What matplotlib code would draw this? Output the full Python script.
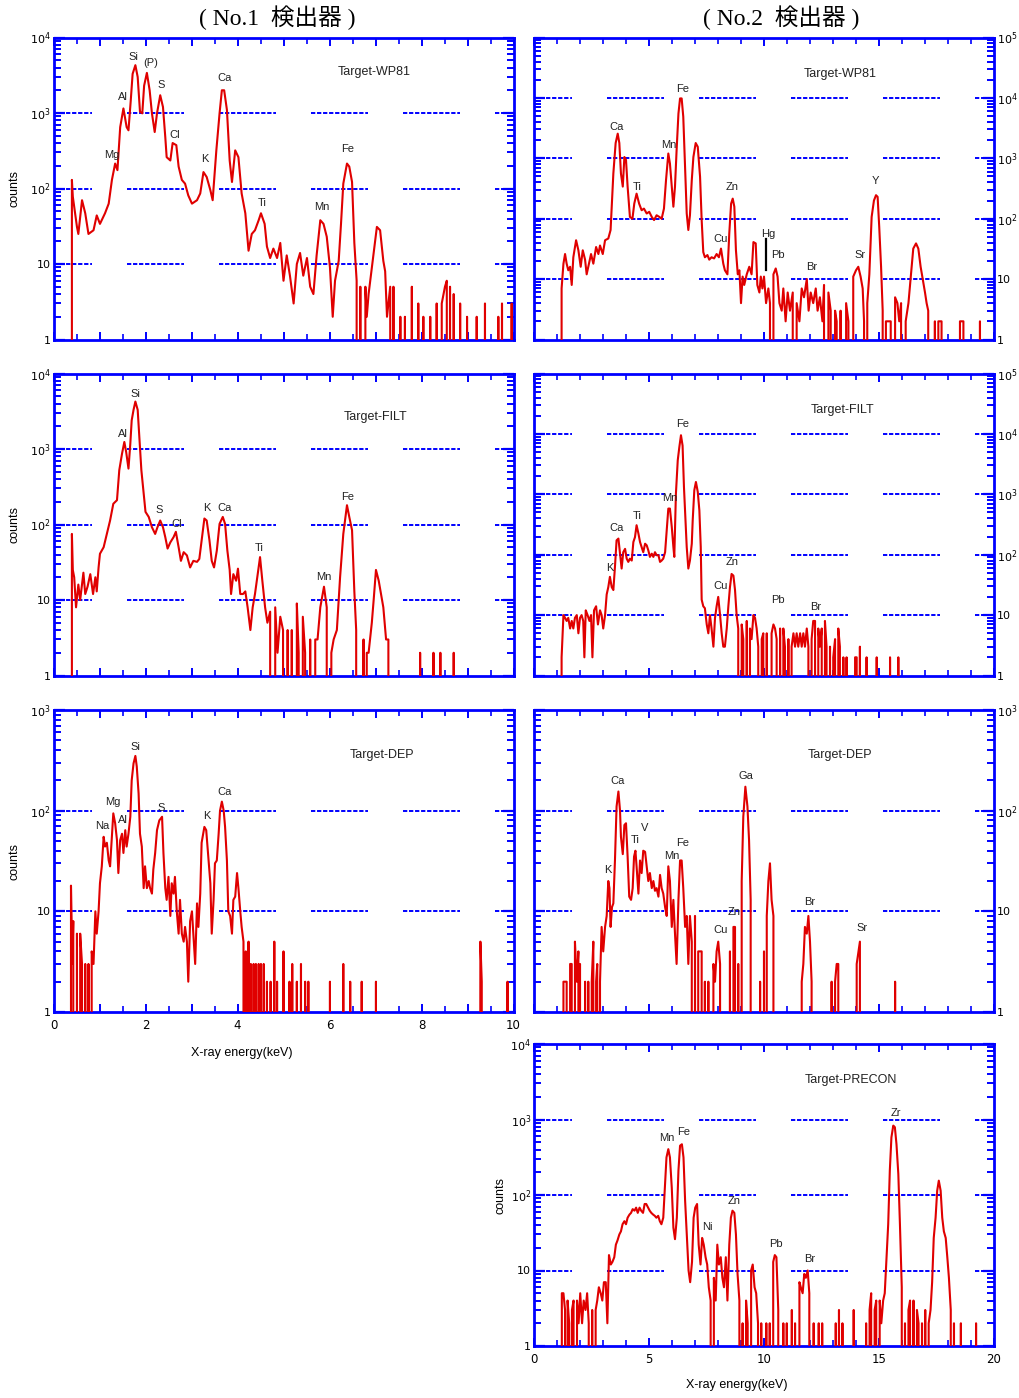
import numpy as np
import matplotlib
matplotlib.use("Agg")
import matplotlib.pyplot as plt
from matplotlib.ticker import MultipleLocator, LogLocator, FuncFormatter, NullFormatter

# ---------------- data: (energy keV, counts) ----------------
wp81_no1 = [(0.40,0),(0.40,130),(0.42,78),(0.51,31),(0.54,25),(0.62,70),(0.69,47),(0.76,25),(0.87,28),(0.94,44),(1.01,34),(1.12,47),(1.20,63),(1.27,130),(1.34,214),(1.39,175),(1.45,650),(1.52,1150),(1.59,650),(1.63,590),(1.68,1480),(1.72,3300),(1.78,4300),(1.83,3000),(1.88,1040),(1.93,990),(1.97,2300),(2.03,3400),(2.09,2000),(2.14,990),(2.20,560),(2.25,990),(2.32,1720),(2.38,1200),(2.43,480),(2.46,260),(2.54,235),(2.59,400),(2.67,375),(2.72,195),(2.79,130),(2.86,116),(2.93,81),(3.01,63),(3.12,70),(3.19,86),(3.26,165),(3.33,142),(3.41,95),(3.46,70),(3.54,320),(3.61,990),(3.66,2000),(3.71,2000),(3.77,1100),(3.83,235),(3.88,122),(3.95,320),(4.02,260),(4.09,86),(4.17,47),(4.24,15),(4.31,25),(4.38,28),(4.46,38),(4.51,47),(4.59,34),(4.64,17),(4.71,12),(4.78,16),(4.86,12),(4.93,19),(5.00,6),(5.07,13),(5.14,7),(5.22,3),(5.29,10),(5.36,14),(5.43,7),(5.51,12),(5.58,5),(5.65,4),(5.72,13),(5.80,38),(5.87,34),(5.94,23),(6.01,9),(6.07,2),(6.12,6),(6.20,11),(6.25,34),(6.30,116),(6.38,214),(6.43,195),(6.49,122),(6.54,19),(6.59,6),(6.63,0),(6.67,5),(6.72,0),(6.78,5),(6.81,2),(6.85,4),(6.90,7),(6.96,14),(7.03,31),(7.10,28),(7.17,11),(7.21,8),(7.25,2),(7.32,5),(7.36,0),(7.39,5),(7.46,0),(7.54,2),(7.61,0),(7.64,2),(7.72,0),(7.79,5),(7.83,0),(7.93,3),(7.97,0),(8.04,2),(8.12,0),(8.19,2),(8.26,0),(8.33,3),(8.41,0),(8.44,3),(8.51,5),(8.55,6),(8.59,0),(8.62,5),(8.66,0),(8.70,4),(8.73,0),(8.84,3),(8.91,0),(8.99,2),(9.06,0),(9.20,2),(9.28,0),(9.38,3),(9.42,0),(9.67,2),(9.71,0),(9.75,3),(9.78,0),(9.96,3),(10.0,0)]

filt_no1 = [(0.40,0),(0.40,75),(0.42,25),(0.45,20),(0.49,8),(0.54,16),(0.58,10),(0.65,23),(0.69,12),(0.74,15),(0.80,22),(0.86,12),(0.91,20),(0.94,13),(0.98,27),(1.01,41),(1.09,50),(1.16,75),(1.23,113),(1.30,188),(1.38,210),(1.43,525),(1.49,870),(1.54,1240),(1.58,910),(1.63,550),(1.67,1180),(1.70,2400),(1.74,3300),(1.78,4250),(1.83,3300),(1.87,1300),(1.91,525),(1.96,255),(2.00,147),(2.07,126),(2.14,92),(2.21,75),(2.26,92),(2.32,113),(2.38,92),(2.43,68),(2.48,48),(2.54,58),(2.61,68),(2.66,80),(2.72,50),(2.77,33),(2.83,43),(2.90,39),(2.97,27),(3.04,33),(3.12,32),(3.17,35),(3.22,62),(3.28,120),(3.33,113),(3.39,62),(3.44,33),(3.49,27),(3.55,45),(3.61,102),(3.68,126),(3.73,102),(3.78,45),(3.83,25),(3.86,12),(3.91,22),(3.97,18),(4.01,26),(4.06,12),(4.12,12),(4.17,13),(4.22,8),(4.28,4),(4.33,8),(4.38,12),(4.44,22),(4.49,37),(4.54,18),(4.60,8),(4.65,5),(4.71,7),(4.77,0),(4.82,8),(4.87,2),(4.93,6),(4.99,4),(5.04,0),(5.09,4),(5.13,0),(5.18,4),(5.23,0),(5.29,9),(5.33,2),(5.36,0),(5.42,6),(5.47,2),(5.52,0),(5.58,3),(5.64,0),(5.69,3),(5.74,3),(5.80,8),(5.86,13),(5.88,15),(5.94,8),(5.99,0),(6.04,2),(6.09,3),(6.16,4),(6.23,20),(6.30,75),(6.38,180),(6.43,126),(6.49,84),(6.54,13),(6.58,4),(6.63,0),(6.74,3),(6.78,0),(6.81,2),(6.85,2),(6.88,3),(6.92,5),(6.96,10),(7.01,25),(7.07,18),(7.12,12),(7.17,8),(7.23,3),(7.28,3),(7.32,0),(7.97,0),(7.97,2),(8.00,0),(8.26,0),(8.26,2),(8.29,0),(8.41,0),(8.41,2),(8.44,0),(8.68,0),(8.70,2),(8.73,0),(10.0,0)]

dep_no1 = [(0.38,0),(0.38,18),(0.41,3),(0.43,8),(0.47,0),(0.51,6),(0.54,0),(0.58,6),(0.62,3),(0.65,0),(0.69,3),(0.72,0),(0.76,3),(0.80,0),(0.83,4),(0.87,3),(0.91,10),(0.94,6),(0.98,10),(1.01,19),(1.05,28),(1.09,55),(1.12,44),(1.16,48),(1.20,32),(1.23,28),(1.27,55),(1.30,94),(1.34,75),(1.38,51),(1.41,24),(1.45,51),(1.49,59),(1.52,38),(1.56,64),(1.59,44),(1.63,59),(1.67,87),(1.70,200),(1.74,295),(1.78,350),(1.81,275),(1.85,148),(1.88,59),(1.92,44),(1.96,17),(1.99,28),(2.03,17),(2.07,20),(2.10,17),(2.14,15),(2.17,26),(2.21,38),(2.25,64),(2.30,80),(2.36,87),(2.39,38),(2.43,17),(2.46,13),(2.50,22),(2.54,9),(2.57,19),(2.61,15),(2.64,22),(2.68,10),(2.72,6),(2.75,13),(2.79,6),(2.83,5),(2.86,7),(2.90,5),(2.93,2),(2.97,8),(3.01,10),(3.04,6),(3.08,3),(3.12,12),(3.15,7),(3.19,15),(3.22,48),(3.28,69),(3.32,64),(3.37,32),(3.41,19),(3.44,6),(3.48,13),(3.51,30),(3.55,32),(3.59,59),(3.62,100),(3.66,123),(3.70,100),(3.73,69),(3.77,32),(3.80,10),(3.84,9),(3.88,6),(3.91,13),(3.95,14),(3.99,24),(4.02,17),(4.06,10),(4.09,7),(4.13,5),(4.14,0),(4.18,4),(4.20,0),(4.24,5),(4.26,0),(4.29,3),(4.32,0),(4.35,3),(4.37,0),(4.40,3),(4.42,0),(4.46,3),(4.48,0),(4.51,3),(4.53,0),(4.57,3),(4.60,0),(4.64,2),(4.67,0),(4.72,2),(4.75,0),(4.80,5),(4.82,0),(4.86,2),(4.89,0),(5.00,4),(5.04,0),(5.13,2),(5.16,0),(5.19,3),(5.22,0),(5.29,2),(5.33,0),(5.38,3),(5.43,0),(5.47,2),(5.49,0),(5.54,2),(5.58,0),(6.01,2),(6.04,0),(6.30,3),(6.34,0),(6.45,2),(6.49,0),(6.70,2),(6.74,0),(7.01,2),(7.04,0),(9.28,5),(9.31,2),(9.33,0),(9.87,2),(9.91,0)]

wp81_no2 = [(1.20,0),(1.20,7),(1.28,18),(1.35,26),(1.42,18),(1.49,14),(1.57,16),(1.64,8),(1.71,23),(1.83,44),(1.93,30),(2.03,16),(2.12,30),(2.22,21),(2.29,12),(2.39,18),(2.48,26),(2.58,18),(2.70,34),(2.80,26),(2.87,36),(2.99,26),(3.09,44),(3.23,47),(3.33,65),(3.45,560),(3.55,1790),(3.64,2560),(3.71,1790),(3.78,560),(3.86,340),(3.93,1050),(4.00,940),(4.07,340),(4.17,107),(4.28,100),(4.36,178),(4.46,260),(4.57,178),(4.68,138),(4.78,147),(4.90,122),(5.01,130),(5.12,107),(5.22,95),(5.33,114),(5.45,107),(5.55,100),(5.65,147),(5.74,435),(5.84,1200),(5.91,820),(5.99,340),(6.06,158),(6.13,340),(6.20,1360),(6.28,5500),(6.35,9800),(6.42,9800),(6.49,4880),(6.57,720),(6.64,122),(6.71,65),(6.78,114),(6.86,435),(6.93,1050),(7.03,1790),(7.12,1550),(7.22,495),(7.29,95),(7.36,28),(7.43,23),(7.54,25),(7.62,21),(7.72,23),(7.83,22),(7.94,26),(8.04,23),(8.13,32),(8.23,18),(8.30,14),(8.41,12),(8.49,57),(8.57,178),(8.64,215),(8.71,158),(8.78,30),(8.86,12),(8.93,14),(9.00,4),(9.07,11),(9.14,8),(9.25,12),(9.36,16),(9.46,12),(9.54,41),(9.64,39),(9.71,8),(9.80,6),(9.86,11),(9.93,7),(10.00,11),(10.09,4),(10.19,7),(10.26,4),(10.33,0),(10.41,12),(10.51,15),(10.59,11),(10.67,4),(10.77,3),(10.84,7),(10.94,2),(11.03,6),(11.13,3),(11.25,6),(11.35,0),(11.42,4),(11.54,2),(11.64,7),(11.74,5),(11.86,10),(11.94,3),(12.03,6),(12.14,4),(12.25,7),(12.33,3),(12.43,5),(12.54,2),(12.61,8),(12.70,0),(12.80,6),(12.90,3),(12.99,0),(13.09,3),(13.16,2),(13.23,0),(13.33,3),(13.45,0),(13.57,4),(13.67,2),(13.77,0),(13.88,11),(14.00,14),(14.10,16),(14.20,11),(14.29,7),(14.35,2),(14.42,0),(14.49,4),(14.58,12),(14.68,107),(14.78,200),(14.87,245),(14.94,230),(15.01,73),(15.09,16),(15.16,3),(15.22,0),(15.30,2),(15.41,2),(15.51,2),(15.59,0),(15.70,5),(15.80,4),(15.88,2),(15.96,4),(16.06,0),(16.16,2),(16.28,4),(16.38,11),(16.49,32),(16.61,39),(16.71,32),(16.81,16),(16.90,10),(17.00,6),(17.07,4),(17.14,3),(17.22,0),(17.43,2),(17.51,0),(17.58,2),(17.72,2),(17.80,0),(18.52,2),(18.67,2),(18.74,0),(19.39,2),(19.43,0)]

filt_no2 = [(1.20,0),(1.20,2),(1.28,10),(1.35,9),(1.42,8),(1.49,9),(1.57,6),(1.64,8),(1.71,6),(1.78,9),(1.86,10),(1.93,5),(2.00,9),(2.07,10),(2.14,8),(2.19,2),(2.25,12),(2.33,10),(2.41,8),(2.48,10),(2.54,2),(2.61,12),(2.70,14),(2.78,7),(2.87,12),(2.94,10),(3.01,6),(3.09,10),(3.16,22),(3.23,29),(3.30,43),(3.38,29),(3.45,26),(3.52,63),(3.59,173),(3.67,185),(3.74,104),(3.81,59),(3.88,110),(3.96,125),(4.03,86),(4.10,76),(4.17,86),(4.25,80),(4.32,162),(4.39,195),(4.46,308),(4.54,224),(4.61,162),(4.68,134),(4.75,110),(4.83,152),(4.90,143),(4.97,118),(5.04,92),(5.12,104),(5.19,92),(5.26,110),(5.33,98),(5.41,98),(5.48,76),(5.55,80),(5.62,86),(5.70,110),(5.77,253),(5.84,580),(5.91,580),(5.99,288),(6.06,134),(6.10,92),(6.17,1020),(6.25,3660),(6.32,6100),(6.39,9500),(6.46,6400),(6.52,1320),(6.58,420),(6.64,134),(6.71,59),(6.78,80),(6.86,152),(6.90,370),(6.97,1170),(7.04,1600),(7.12,1100),(7.19,540),(7.25,134),(7.29,18),(7.36,14),(7.43,13),(7.51,7),(7.58,5),(7.65,10),(7.72,6),(7.80,3),(7.87,9),(7.94,14),(8.01,20),(8.09,10),(8.16,5),(8.23,3),(8.30,3),(8.38,6),(8.45,14),(8.52,29),(8.59,48),(8.67,45),(8.74,26),(8.81,10),(8.88,6),(8.96,0),(9.03,7),(9.10,4),(9.17,0),(9.25,8),(9.32,0),(9.39,6),(9.46,4),(9.54,10),(9.61,9),(9.68,6),(9.75,3),(9.83,0),(9.90,4),(9.97,5),(10.04,0),(10.12,5),(10.19,0),(10.33,5),(10.41,7),(10.48,6),(10.55,4),(10.62,0),(10.70,6),(10.77,0),(10.84,6),(10.91,3),(10.99,0),(11.06,4),(11.13,0),(11.20,3),(11.28,5),(11.35,3),(11.42,5),(11.49,3),(11.57,5),(11.64,3),(11.71,5),(11.78,3),(11.86,6),(11.93,3),(12.00,0),(12.07,4),(12.14,8),(12.22,8),(12.29,0),(12.36,6),(12.43,3),(12.51,6),(12.58,0),(12.65,8),(12.72,3),(12.80,0),(12.87,3),(12.94,0),(13.01,2),(13.09,4),(13.16,0),(13.23,6),(13.30,3),(13.38,0),(13.45,2),(13.52,0),(13.59,2),(13.67,0),(13.96,2),(14.03,2),(14.10,0),(14.17,3),(14.25,0),(14.46,2),(14.54,0),(14.90,2),(14.97,0),(15.48,2),(15.55,0),(15.84,2),(15.91,0)]

dep_no2 = [(1.28,0),(1.28,2),(1.42,2),(1.45,0),(1.57,3),(1.64,3),(1.68,0),(1.78,5),(1.86,2),(1.93,4),(1.97,0),(2.00,3),(2.07,0),(2.22,2),(2.29,0),(2.36,2),(2.43,0),(2.51,2),(2.58,5),(2.65,0),(2.70,2),(2.75,3),(2.81,0),(2.87,2),(2.94,7),(3.01,4),(3.09,7),(3.16,9),(3.23,20),(3.28,17),(3.33,7),(3.39,11),(3.45,12),(3.52,32),(3.59,110),(3.67,155),(3.74,100),(3.78,55),(3.86,37),(3.93,72),(4.00,75),(4.07,35),(4.14,14),(4.22,13),(4.29,17),(4.35,35),(4.41,40),(4.46,28),(4.54,15),(4.61,32),(4.68,24),(4.75,40),(4.83,39),(4.90,28),(4.97,20),(5.04,24),(5.12,17),(5.19,20),(5.26,16),(5.33,17),(5.41,14),(5.48,23),(5.55,17),(5.62,15),(5.70,11),(5.77,9),(5.84,28),(5.91,20),(5.99,7),(6.06,13),(6.13,6),(6.20,3),(6.28,13),(6.35,32),(6.42,32),(6.49,17),(6.57,7),(6.64,9),(6.71,3),(6.78,9),(6.86,5),(6.93,0),(7.00,9),(7.07,0),(7.14,4),(7.22,4),(7.29,4),(7.36,0),(7.43,2),(7.51,0),(7.58,2),(7.65,0),(7.80,3),(7.87,2),(7.94,4),(8.01,5),(8.09,3),(8.16,0),(8.52,4),(8.59,0),(8.67,7),(8.74,7),(8.81,0),(8.88,3),(8.96,0),(9.03,20),(9.10,87),(9.19,173),(9.28,110),(9.35,51),(9.42,13),(9.48,0),(9.83,2),(9.90,0),(10.00,4),(10.07,0),(10.12,9),(10.19,20),(10.26,30),(10.33,13),(10.41,9),(10.48,0),(11.64,2),(11.71,3),(11.78,7),(11.86,6),(11.93,9),(12.00,5),(12.07,2),(12.14,0),(12.94,2),(13.01,0),(13.09,2),(13.16,3),(13.23,3),(13.30,0),(14.03,3),(14.17,5),(14.25,0),(15.70,2),(15.77,0)]

precon_no2 = [(1.21,0),(1.21,5),(1.28,5),(1.35,3),(1.40,0),(1.46,4),(1.53,2),(1.57,0),(1.65,3),(1.72,4),(1.79,0),(1.87,4),(1.94,2),(2.01,5),(2.09,2),(2.16,4),(2.24,3),(2.31,5),(2.38,2),(2.46,0),(2.53,3),(2.60,0),(2.68,3),(2.75,4),(2.82,6),(2.90,5),(2.97,4),(3.04,7),(3.12,7),(3.19,2),(3.26,16),(3.34,12),(3.41,13),(3.49,15),(3.56,22),(3.63,25),(3.71,30),(3.78,33),(3.85,41),(3.93,45),(4.00,41),(4.07,50),(4.15,55),(4.22,58),(4.29,65),(4.37,62),(4.44,68),(4.51,58),(4.59,68),(4.66,62),(4.74,58),(4.81,76),(4.88,76),(4.96,68),(5.03,62),(5.10,58),(5.18,55),(5.25,53),(5.32,50),(5.40,53),(5.47,45),(5.54,41),(5.62,50),(5.69,125),(5.76,315),(5.84,405),(5.91,315),(5.99,125),(6.06,37),(6.13,26),(6.21,50),(6.28,210),(6.35,450),(6.43,470),(6.50,315),(6.57,84),(6.65,27),(6.72,10),(6.79,7),(6.87,13),(6.94,50),(7.01,68),(7.09,76),(7.16,22),(7.24,12),(7.31,27),(7.38,22),(7.46,15),(7.53,12),(7.60,6),(7.68,4),(7.75,0),(7.82,8),(7.90,4),(7.97,22),(8.04,12),(8.12,15),(8.19,8),(8.26,6),(8.34,15),(8.41,4),(8.49,22),(8.56,50),(8.63,62),(8.71,58),(8.78,30),(8.85,9),(8.93,4),(9.00,0),(9.07,2),(9.15,0),(9.22,4),(9.29,2),(9.37,0),(9.44,10),(9.51,12),(9.59,6),(9.66,5),(9.74,2),(9.81,0),(9.88,2),(9.96,0),(10.10,2),(10.18,0),(10.25,2),(10.32,0),(10.40,13),(10.47,16),(10.54,15),(10.62,3),(10.69,0),(10.84,2),(10.91,0),(10.99,2),(11.06,0),(11.21,3),(11.28,0),(11.35,2),(11.43,0),(11.54,7),(11.60,6),(11.68,5),(11.75,9),(11.82,8),(11.90,10),(11.97,5),(12.04,0),(12.16,2),(12.24,0),(12.38,2),(12.46,0),(12.53,2),(12.60,0),(13.12,2),(13.19,0),(13.26,3),(13.34,0),(13.41,2),(13.49,0),(13.90,3),(13.96,0),(14.44,2),(14.51,0),(14.59,3),(14.66,5),(14.74,0),(14.81,3),(14.88,4),(14.96,0),(15.03,4),(15.10,2),(15.18,4),(15.25,5),(15.32,13),(15.40,41),(15.47,210),(15.54,580),(15.62,830),(15.69,790),(15.76,470),(15.84,190),(15.91,41),(15.99,6),(16.06,0),(16.13,2),(16.21,0),(16.28,3),(16.35,4),(16.43,0),(16.50,4),(16.57,0),(16.65,3),(16.72,2),(16.79,0),(16.87,2),(16.94,0),(17.01,3),(17.09,0),(17.16,2),(17.24,3),(17.31,7),(17.38,27),(17.46,50),(17.53,114),(17.60,155),(17.68,114),(17.75,50),(17.82,33),(17.90,27),(17.97,15),(18.04,8),(18.12,3),(18.19,0),(18.26,2),(18.34,0),(18.56,2),(18.63,0),(19.22,2),(19.29,0)]

# peak labels: (text, energy keV, log10 counts position)
labels_wp81_no1 = [("Si",1.74,3.74),("(P)",2.12,3.66),("S",2.34,3.37),("Al",1.52,3.21),("Cl",2.64,2.71),
                   ("Ca",3.71,3.47),("Mg",1.27,2.44),("K",3.30,2.39),("Ti",4.53,1.81),("Mn",5.83,1.76),("Fe",6.40,2.52)]
labels_filt_no1 = [("Si",1.78,3.73),("Al",1.52,3.20),("S",2.30,2.19),("Cl",2.68,2.01),("K",3.33,2.22),
                   ("Ca",3.71,2.22),("Fe",6.40,2.37),("Ti",4.48,1.69),("Mn",5.87,1.31)]
labels_dep_no1 = [("Si",1.78,2.63),("Mg",1.30,2.09),("Na",1.05,1.85),("Al",1.52,1.91),("S",2.34,2.03),
                  ("K",3.33,1.95),("Ca",3.71,2.19)]
labels_wp81_no2 = [("Fe",6.45,4.14),("Ca",3.57,3.52),("Mn",5.84,3.22),("Ti",4.49,2.53),("Zn",8.62,2.53),
                   ("Cu",8.09,1.66),("Hg",10.19,1.75),("Pb",10.62,1.40),("Br",12.07,1.20),("Sr",14.17,1.40),("Y",14.84,2.62)]
labels_filt_no2 = [("Fe",6.45,4.16),("Mn",5.91,2.94),("Ti",4.49,2.64),("Ca",3.57,2.44),("K",3.28,1.78),
                   ("Zn",8.62,1.88),("Cu",8.09,1.48),("Pb",10.62,1.25),("Br",12.26,1.14)]
labels_dep_no2 = [("Ca",3.65,2.29),("Ga",9.22,2.34),("V",4.83,1.83),("Ti",4.42,1.71),("Fe",6.45,1.68),
                  ("Mn",5.99,1.55),("K",3.19,1.41),("Zn",8.70,0.99),("Cu",8.09,0.81),("Br",11.97,1.09),("Sr",14.25,0.83)]
labels_precon_no2 = [("Zr",15.74,3.09),("Mn",5.79,2.75),("Fe",6.50,2.83),("Zn",8.68,1.92),("Ni",7.53,1.58),
                     ("Pb",10.51,1.35),("Br",11.99,1.15)]

titles = ["( No.1  検出器 )", "( No.2  検出器 )"]
xlabel = "X-ray energy(keV)"
ylabel = "counts"

# ---------------- style ----------------
BLUE = "#0000ff"
RED = "#e00000"
NARROW = ["Liberation Sans Narrow", "Liberation Sans", "DejaVu Sans"]

W, H = 1019, 1398
fig = plt.figure(figsize=(W / 100, H / 100), dpi=100)

def axrect(x0, top, w=460, h=302):
    return [x0 / W, 1 - (top + h) / H, w / W, h / H]

LX, RX = 53.5, 534
panels = [
    (axrect(LX, 37.5), wp81_no1, labels_wp81_no1, "Target-WP81", (6.97, 3.54), 10, 4, "left"),
    (axrect(RX, 37.5), wp81_no2, labels_wp81_no2, "Target-WP81", (13.33, 4.39), 20, 5, "right"),
    (axrect(LX, 373.5), filt_no1, labels_filt_no1, "Target-FILT", (6.99, 3.42), 10, 4, "left"),
    (axrect(RX, 373.5), filt_no2, labels_filt_no2, "Target-FILT", (13.42, 4.40), 20, 5, "right"),
    (axrect(LX, 710), dep_no1, labels_dep_no1, "Target-DEP", (7.14, 2.55), 10, 3, "left"),
    (axrect(RX, 710), dep_no2, labels_dep_no2, "Target-DEP", (13.30, 2.55), 20, 3, "right"),
    (axrect(RX, 1044), precon_no2, labels_precon_no2, "Target-PRECON", (13.78, 3.52), 20, 4, "left"),
]

def yfmt(v, pos):
    if abs(v - 1) < 1e-9:
        return "1"
    if abs(v - 10) < 1e-9:
        return "10"
    e = int(round(np.log10(v)))
    return r"$10^{%d}$" % e

for i, (rect, data, labs, tname, tpos, xmax, ymaxexp, side) in enumerate(panels):
    ax = fig.add_axes(rect)
    ax.set_yscale("log", nonpositive="clip")
    ax.set_xlim(0, xmax)
    ax.set_ylim(1, 10 ** ymaxexp)

    arr = np.array(data, dtype=float)
    ax.plot(arr[:, 0], arr[:, 1], color=RED, lw=1.5, zorder=3)

    # dashed grid segments at decades
    for e in range(1, ymaxexp):
        for s in [-0.041, 0.159, 0.359, 0.559, 0.759, 0.959]:
            a, b = max(0, s), min(1, s + 0.124)
            ax.plot([a, b], [10 ** e, 10 ** e], transform=ax.get_yaxis_transform(),
                    color=BLUE, lw=1.4, ls=(0, (2.2, 0.9)), zorder=2, clip_on=False)

    for sp in ax.spines.values():
        sp.set_color(BLUE)
        sp.set_linewidth(2.0)

    if xmax == 10:
        ax.xaxis.set_major_locator(MultipleLocator(1))
        ax.xaxis.set_minor_locator(MultipleLocator(0.5))
    else:
        ax.xaxis.set_major_locator(MultipleLocator(5))
        ax.xaxis.set_minor_locator(MultipleLocator(1))
    ax.yaxis.set_major_locator(LogLocator(base=10, numticks=20))
    ax.yaxis.set_minor_locator(LogLocator(base=10, subs=np.arange(2, 10), numticks=20))
    ax.yaxis.set_major_formatter(FuncFormatter(yfmt))
    ax.yaxis.set_minor_formatter(NullFormatter())

    ax.tick_params(axis="both", which="both", direction="in", colors=BLUE,
                   top=True, bottom=True, left=True, right=True, labelcolor="black")
    ax.tick_params(axis="y", which="major", length=8, width=1.6, labelsize=8, pad=2)
    ax.tick_params(axis="y", which="minor", length=5, width=1.4)
    ax.tick_params(axis="x", which="major", length=6, width=1.4, labelsize=8.5, pad=5)
    ax.tick_params(axis="x", which="minor", length=4, width=1.2)
    if side == "right":
        ax.tick_params(axis="y", which="both", labelleft=False, labelright=True)

    if i == 4:
        ax.xaxis.set_major_formatter(FuncFormatter(lambda v, p: "%d" % v if int(round(v)) % 2 == 0 else ""))
    elif i == 6:
        ax.xaxis.set_major_formatter(FuncFormatter(lambda v, p: "%d" % v))
    else:
        ax.tick_params(axis="x", which="both", labelbottom=False)

    for name, ex, ly in labs:
        ax.text(ex, 10 ** ly, name, ha="center", va="center", fontsize=8,
                family=NARROW, color="#222222", zorder=4)
    ax.text(tpos[0], 10 ** tpos[1], tname, ha="center", va="center", fontsize=9,
            family=NARROW, color="#222222", zorder=4)

    if i == 1:
        ax.plot([10.09, 10.09], [10 ** 1.15, 10 ** 1.66], color="black", lw=1.6, zorder=4)

# y labels
for i in (0, 2, 4):
    r = panels[i][0]
    fig.text(15 / W, r[1] + r[3] / 2, ylabel, rotation=90, ha="center", va="center",
             fontsize=9, family=NARROW)
r = panels[6][0]
fig.text(500 / W, r[1] + r[3] / 2, ylabel, rotation=90, ha="center", va="center",
         fontsize=9, family=NARROW)

# x labels
fig.text(242 / W, 1 - 1053 / H, xlabel, ha="center", va="center", fontsize=9, family=NARROW)
fig.text(737 / W, 1 - 1385 / H, xlabel, ha="center", va="center", fontsize=9, family=NARROW)

# titles
serif_cjk = ["Liberation Serif", "Noto Sans CJK JP", "DejaVu Serif"]
fig.text(277 / W, 1 - 18 / H, titles[0], ha="center", va="center", fontsize=17, family=serif_cjk)
fig.text(781 / W, 1 - 18 / H, titles[1], ha="center", va="center", fontsize=17, family=serif_cjk)

fig.savefig("out.png", dpi=100)
